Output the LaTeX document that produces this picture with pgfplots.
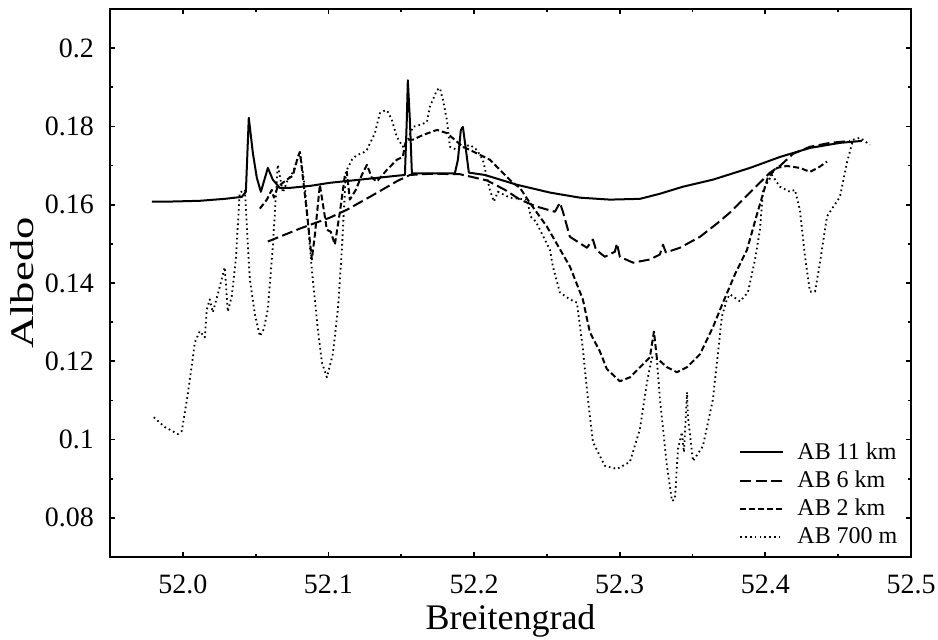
\documentclass[border=0pt]{standalone}
\usepackage{fontspec}
\setmainfont{Liberation Serif}
\usepackage{graphicx}
\usepackage{pgfplots}
\pgfplotsset{compat=1.18}
\begin{document}
\begin{tikzpicture}
\begin{axis}[
  scale only axis, width=400.5pt, height=274pt,
  xmin=51.95, xmax=52.5, ymin=0.07, ymax=0.21,
  xtick={52,52.1,52.2,52.3,52.4,52.5},
  ytick={0.08,0.1,0.12,0.14,0.16,0.18,0.2},
  minor x tick num=1, minor y tick num=1,
  tick align=inside,
  xtick pos=both, ytick pos=both,
  xticklabel pos=lower, yticklabel pos=left,
  major tick length=2.5pt, minor tick length=1.3pt,
  axis line style={line width=1pt},
  every tick/.style={line width=0.9pt, black},
  /pgf/number format/assume math mode=true,
  tick label style={font=\fontsize{14}{16}\selectfont},
  xticklabel style={/pgf/number format/fixed, /pgf/number format/fixed zerofill, /pgf/number format/precision=1, inner sep=1pt, yshift=-7.6pt},
  yticklabel style={/pgf/number format/fixed, /pgf/number format/precision=2, xshift=-4.5pt},
  xlabel={Breitengrad},
  xlabel style={at={(axis description cs:0.5,-0.132)}, anchor=base, inner sep=1pt, font=\fontsize{18}{21}\selectfont},
  ylabel={\scalebox{1.35}[1]{Albedo}},
  ylabel style={at={(axis description cs:-0.0961,0.5)}, anchor=base, font=\fontsize{16.5}{19}\selectfont},
  legend cell align=left,
  legend image code/.code={\draw[#1] (0pt,0pt) -- (21.5pt,0pt);},
  legend style={at={(axis description cs:0.7853,0.2172)}, anchor=north west, draw=none, fill=none,
    inner sep=0pt, font=\fontsize{12}{14}\selectfont, row sep=0.4pt, column sep=4.5pt,
    nodes={inner sep=2pt}},
]
% AB 11 km
\addplot[black, line width=1pt, line join=round] table {
51.9787 0.1608
51.9911 0.1608
52.0117 0.1610
52.0288 0.1615
52.0405 0.1620
52.0433 0.1633
52.0453 0.1822
52.0481 0.1732
52.0508 0.1669
52.0536 0.1633
52.0584 0.1694
52.0618 0.1664
52.0666 0.1643
52.0735 0.1643
52.0872 0.1648
52.1010 0.1656
52.1216 0.1664
52.1470 0.1674
52.1525 0.1676
52.1538 0.1817
52.1545 0.1918
52.1559 0.1817
52.1573 0.1680
52.1696 0.1680
52.1868 0.1680
52.1889 0.1715
52.1909 0.1791
52.1923 0.1799
52.1944 0.1740
52.1964 0.1682
52.2074 0.1676
52.2294 0.1651
52.2521 0.1631
52.2727 0.1618
52.2933 0.1613
52.3139 0.1615
52.3276 0.1628
52.3434 0.1646
52.3640 0.1664
52.3894 0.1694
52.4100 0.1722
52.4306 0.1745
52.4512 0.1758
52.4663 0.1763
};
\addlegendentry{AB 11 km}
% AB 6 km
\addplot[black, line width=1pt, dash pattern=on 5.5pt off 2.2pt, line join=round] table {
52.0584 0.1506
52.0804 0.1539
52.1010 0.1567
52.1126 0.1587
52.1284 0.1620
52.1470 0.1660
52.1559 0.1676
52.1696 0.1679
52.1902 0.1678
52.2088 0.1662
52.2212 0.1638
52.2315 0.1613
52.2431 0.1595
52.2555 0.1582
52.2589 0.1605
52.2610 0.1582
52.2658 0.1518
52.2775 0.1490
52.2816 0.1511
52.2837 0.1485
52.2898 0.1467
52.2967 0.1480
52.2981 0.1501
52.3001 0.1467
52.3091 0.1452
52.3207 0.1460
52.3276 0.1473
52.3297 0.1498
52.3317 0.1478
52.3413 0.1490
52.3551 0.1518
52.3668 0.1552
52.3757 0.1580
52.3894 0.1631
52.4032 0.1682
52.4100 0.1699
52.4190 0.1730
52.4306 0.1748
52.4444 0.1758
52.4580 0.1763
};
\addlegendentry{AB 6 km}
% AB 2 km
\addplot[black, line width=1pt, dash pattern=on 3pt off 1.5pt, line join=round] table {
52.0529 0.1590
52.0577 0.1613
52.0611 0.1638
52.0625 0.1618
52.0652 0.1646
52.0714 0.1664
52.0755 0.1674
52.0790 0.1722
52.0804 0.1735
52.0824 0.1671
52.0852 0.1580
52.0886 0.1460
52.0907 0.1524
52.0941 0.1651
52.0968 0.1587
52.0989 0.1536
52.1016 0.1531
52.1044 0.1498
52.1078 0.1580
52.1113 0.1676
52.1126 0.1684
52.1147 0.1613
52.1188 0.1638
52.1229 0.1676
52.1264 0.1702
52.1298 0.1669
52.1332 0.1659
52.1401 0.1689
52.1470 0.1715
52.1511 0.1722
52.1525 0.1753
52.1538 0.1766
52.1580 0.1766
52.1648 0.1778
52.1745 0.1791
52.1813 0.1783
52.1923 0.1748
52.1971 0.1740
52.2108 0.1715
52.2266 0.1656
52.2315 0.1643
52.2383 0.1605
52.2500 0.1544
52.2658 0.1442
52.2747 0.1358
52.2795 0.1274
52.2864 0.1225
52.2912 0.1180
52.3001 0.1149
52.3070 0.1159
52.3159 0.1192
52.3207 0.1210
52.3235 0.1276
52.3255 0.1208
52.3324 0.1185
52.3393 0.1172
52.3462 0.1185
52.3551 0.1218
52.3640 0.1287
52.3709 0.1350
52.3791 0.1422
52.3874 0.1485
52.3942 0.1575
52.4018 0.1671
52.4080 0.1694
52.4148 0.1699
52.4237 0.1694
52.4306 0.1684
52.4361 0.1694
52.4423 0.1710
};
\addlegendentry{AB 2 km}
% AB 700 m
\addplot[black, line width=0.9pt, dash pattern=on 0.8pt off 1.6pt, line join=round] table {
51.9801 0.1057
51.9876 0.1032
51.9966 0.1014
51.9993 0.1022
52.0014 0.1070
52.0034 0.1116
52.0048 0.1154
52.0069 0.1210
52.0082 0.1248
52.0117 0.1277
52.0151 0.1261
52.0165 0.1333
52.0185 0.1358
52.0206 0.1325
52.0240 0.1371
52.0288 0.1440
52.0309 0.1327
52.0336 0.1366
52.0364 0.1460
52.0391 0.1631
52.0426 0.1638
52.0460 0.1409
52.0495 0.1320
52.0529 0.1264
52.0556 0.1282
52.0584 0.1333
52.0618 0.1493
52.0652 0.1702
52.0687 0.1631
52.0721 0.1664
52.0755 0.1682
52.0804 0.1735
52.0838 0.1646
52.0886 0.1434
52.0927 0.1282
52.0955 0.1197
52.0989 0.1159
52.1030 0.1218
52.1065 0.1333
52.1092 0.1485
52.1120 0.1684
52.1161 0.1715
52.1195 0.1727
52.1236 0.1732
52.1264 0.1740
52.1319 0.1783
52.1353 0.1834
52.1394 0.1842
52.1408 0.1837
52.1435 0.1817
52.1470 0.1773
52.1511 0.1748
52.1545 0.1766
52.1580 0.1799
52.1628 0.1804
52.1676 0.1811
52.1696 0.1850
52.1745 0.1893
52.1765 0.1898
52.1786 0.1868
52.1813 0.1817
52.1834 0.1748
52.1882 0.1740
52.1971 0.1753
52.2019 0.1740
52.2060 0.1715
52.2108 0.1638
52.2136 0.1608
52.2163 0.1633
52.2246 0.1618
52.2363 0.1613
52.2390 0.1569
52.2424 0.1557
52.2521 0.1485
52.2541 0.1442
52.2589 0.1376
52.2658 0.1358
52.2706 0.1350
52.2747 0.1231
52.2782 0.1103
52.2816 0.0994
52.2898 0.0933
52.2981 0.0925
52.3070 0.0943
52.3139 0.1027
52.3187 0.1146
52.3221 0.1210
52.3255 0.1205
52.3276 0.1103
52.3324 0.0933
52.3359 0.0843
52.3379 0.0848
52.3400 0.0976
52.3427 0.1019
52.3441 0.0968
52.3462 0.1121
52.3468 0.1060
52.3503 0.0945
52.3571 0.0983
52.3640 0.1103
52.3702 0.1315
52.3736 0.1358
52.3757 0.1371
52.3826 0.1353
52.3880 0.1376
52.3929 0.1460
52.3963 0.1536
52.3984 0.1638
52.4045 0.1676
52.4100 0.1646
52.4169 0.1633
52.4203 0.1638
52.4237 0.1587
52.4272 0.1468
52.4306 0.1378
52.4341 0.1378
52.4375 0.1452
52.4423 0.1570
52.4512 0.1620
52.4560 0.1707
52.4602 0.1766
52.4650 0.1771
52.4718 0.1753
};
\addlegendentry{AB 700 m}
\end{axis}
\path (current axis.south west) ++(-55pt,-38.5pt) coordinate (bbl);
\path (current axis.north east) ++(13.5pt,4.5pt) coordinate (btr);
\path (bbl) rectangle (btr);
\end{tikzpicture}
\end{document}
